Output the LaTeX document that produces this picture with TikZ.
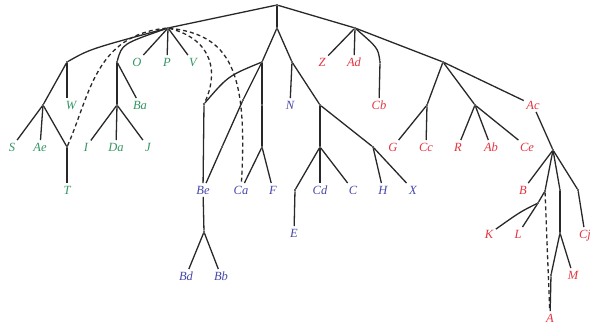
\documentclass[tikz,border=0pt]{standalone}
\usepackage{fontspec}
\setmainfont{Liberation Serif}
\definecolor{tgreen}{RGB}{52,150,100}
\definecolor{tblue}{RGB}{72,72,170}
\definecolor{tred}{RGB}{228,52,64}
\definecolor{lc}{RGB}{40,40,40}
\begin{document}
\begin{tikzpicture}[x=1pt,y=-1pt,
  lab/.style={font=\fontsize{12.5}{12.5}\selectfont\itshape, inner sep=2.5pt, text height=8.5pt, text depth=0pt},
  gl/.style={lab, text=tgreen},
  bl/.style={lab, text=tblue},
  rl/.style={lab, text=tred},
  pt/.style={circle, fill=lc, inner sep=0pt, minimum size=2.2pt},
  br/.style={draw=lc, line width=1.3pt},
  dsh/.style={br, dash pattern=on 4pt off 3pt}]
\useasboundingbox (0,0) rectangle (590,331);
% internal points
\node[pt] (r) at (277,5) {};
\node[pt] (g1) at (168,28) {};
\node[pt] (gA) at (67,62) {};
\node[pt] (gB) at (43,105) {};
\node[pt] (gT) at (67,147) {};
\node[pt] (gC) at (117,62) {};
\node[pt] (gD) at (117,105) {};
\node[pt] (m1) at (277,28) {};
\node[pt] (bB) at (262,62) {};
\node[pt] (bN) at (292,62) {};
\node[pt] (bA) at (204,104) {};
\node[pt] (bE1) at (243,100) {};
\node[pt] (bE2) at (222,147) {};
\node[pt] (bC) at (262,105) {};
\node[pt] (bD) at (262,147) {};
\node[pt] (bF) at (204,232) {};
\node[pt] (bG) at (320,105) {};
\node[pt] (bH) at (320,147) {};
\node[pt] (bI) at (295,190) {};
\node[pt] (bJ) at (373,147) {};
\node[pt] (rA) at (355,28) {};
\node[pt] (rC) at (380,62) {};
\node[pt] (rB) at (443,62) {};
\node[pt] (rD) at (427,105) {};
\node[pt] (rE) at (475,105) {};
\node[pt] (rF) at (553,150) {};
\node[pt] (rG) at (545,191) {};
\node[pt] (rH) at (538,203) {};
\node[pt] (rI) at (560,190) {};
\node[pt] (rJ) at (560,233) {};
\node[pt] (rK) at (551,275) {};
\node[pt] (rL) at (578,190) {};
% labels green
\node[gl] (S) at (12,147) {S};
\node[gl] (Ae) at (40,147) {Ae};
\node[gl] (T) at (67,190) {T};
\node[gl] (W) at (71,105) {W};
\node[gl] (I) at (86,147) {I};
\node[gl] (Da) at (116,147) {Da};
\node[gl] (J) at (148,147) {J};
\node[gl] (Ba) at (140,105) {Ba};
\node[gl] (O) at (137,62) {O};
\node[gl] (P) at (167,62) {P};
\node[gl] (V) at (193,62) {V};
% labels blue
\node[bl] (Be) at (203,190) {Be};
\node[bl] (Ca) at (241,190) {Ca};
\node[bl] (F) at (273,190) {F};
\node[bl] (N) at (290,105) {N};
\node[bl] (Bd) at (186,276) {Bd};
\node[bl] (Bb) at (221,276) {Bb};
\node[bl] (E) at (294,233) {E};
\node[bl] (Cd) at (320,190) {Cd};
\node[bl] (C) at (353,190) {C};
\node[bl] (H) at (383,190) {H};
\node[bl] (X) at (413,190) {X};
% labels red
\node[rl] (Z) at (322,62) {Z};
\node[rl] (Ad) at (354,62) {Ad};
\node[rl] (Cb) at (379,105) {Cb};
\node[rl] (Ac) at (533,105) {Ac};
\node[rl] (G) at (393,147) {G};
\node[rl] (Cc) at (426,147) {Cc};
\node[rl] (R) at (458,147) {R};
\node[rl] (Ab) at (491,147) {Ab};
\node[rl] (Ce) at (527,147) {Ce};
\node[rl] (B) at (523,190) {B};
\node[rl] (K) at (489,234) {K};
\node[rl] (L) at (518,234) {L};
\node[rl] (M) at (573,275) {M};
\node[rl] (A) at (550,318) {A};
\node[rl] (Cj) at (585,234) {Cj};
% green edges
\draw[br] (r) -- (g1);
\draw[br] (g1) .. controls (90,49) .. (gA);
\draw[br] (gA) -- (gA |- W.north);
\draw[br] (gA) -- (gB);
\draw[br] (gB) -- (S);
\draw[br] (gB) -- (Ae);
\draw[br] (gB) -- (gT);
\draw[br] (gT) -- (T);
\draw[dsh] (gT) .. controls (90,95) and (95,35) .. (g1);
\draw[br] (g1) .. controls (122,44) .. (gC);
\draw[br] (gC) -- (Ba);
\draw[br] (gC) -- (gD);
\draw[br] (gD) -- (I);
\draw[br] (gD) -- (Da);
\draw[br] (gD) -- (J);
\draw[br] (g1) -- (O);
\draw[br] (g1) -- (P);
\draw[br] (g1) -- (V);
\draw[dsh] (g1) .. controls (215,40) and (218,75) .. (bA);
\draw[dsh] (g1) .. controls (230,35) and (248,70) .. (Ca);
% blue edges
\draw[br] (r) -- (m1);
\draw[br] (m1) -- (bB);
\draw[br] (m1) -- (bN);
\draw[br] (bN) -- (N);
\draw[br] (bB) .. controls (228,76) .. (bA);
\draw[br] (bA) -- (Be);
\draw[br] (bB) -- (bE1) -- (bE2) -- (Be);
\draw[br] (bB) -- (bC) -- (bD);
\draw[br] (bD) -- (Ca);
\draw[br] (bD) -- (F);
\draw[br] (Be) -- (bF);
\draw[br] (bF) -- (Bd);
\draw[br] (bF) -- (Bb);
\draw[br] (bN) -- (bG);
\draw[br] (bG) -- (bH);
\draw[br] (bH) -- (bI);
\draw[br] (bI) -- (E);
\draw[br] (bH) -- (Cd);
\draw[br] (bH) -- (C);
\draw[br] (bG) -- (bJ);
\draw[br] (bJ) -- (H);
\draw[br] (bJ) -- (X);
% red edges
\draw[br] (r) -- (rA);
\draw[br] (rA) -- (Z);
\draw[br] (rA) -- (Ad);
\draw[br] (rA) .. controls (378,48) .. (rC);
\draw[br] (rC) -- (Cb);
\draw[br] (rA) -- (rB);
\draw[br] (rB) -- (Ac);
\draw[br] (rB) -- (rD);
\draw[br] (rD) -- (G);
\draw[br] (rD) -- (Cc);
\draw[br] (rB) -- (rE);
\draw[br] (rE) -- (R);
\draw[br] (rE) -- (Ab);
\draw[br] (rE) -- (Ce);
\draw[br] (Ac) -- (rF);
\draw[br] (rF) -- (B);
\draw[br] (rF) -- (rG);
\draw[br] (rG) -- (rH);
\draw[br] (rH) .. controls (520,212) .. (K);
\draw[br] (rH) -- (L);
\draw[dsh] (rG) -- (A);
\draw[br] (rF) -- (rI);
\draw[br] (rI) -- (rJ);
\draw[br] (rJ) -- (rK);
\draw[br] (rK) -- (A);
\draw[br] (rJ) -- (M);
\draw[br] (rF) -- (rL);
\draw[br] (rL) -- (Cj);
\end{tikzpicture}
\end{document}
